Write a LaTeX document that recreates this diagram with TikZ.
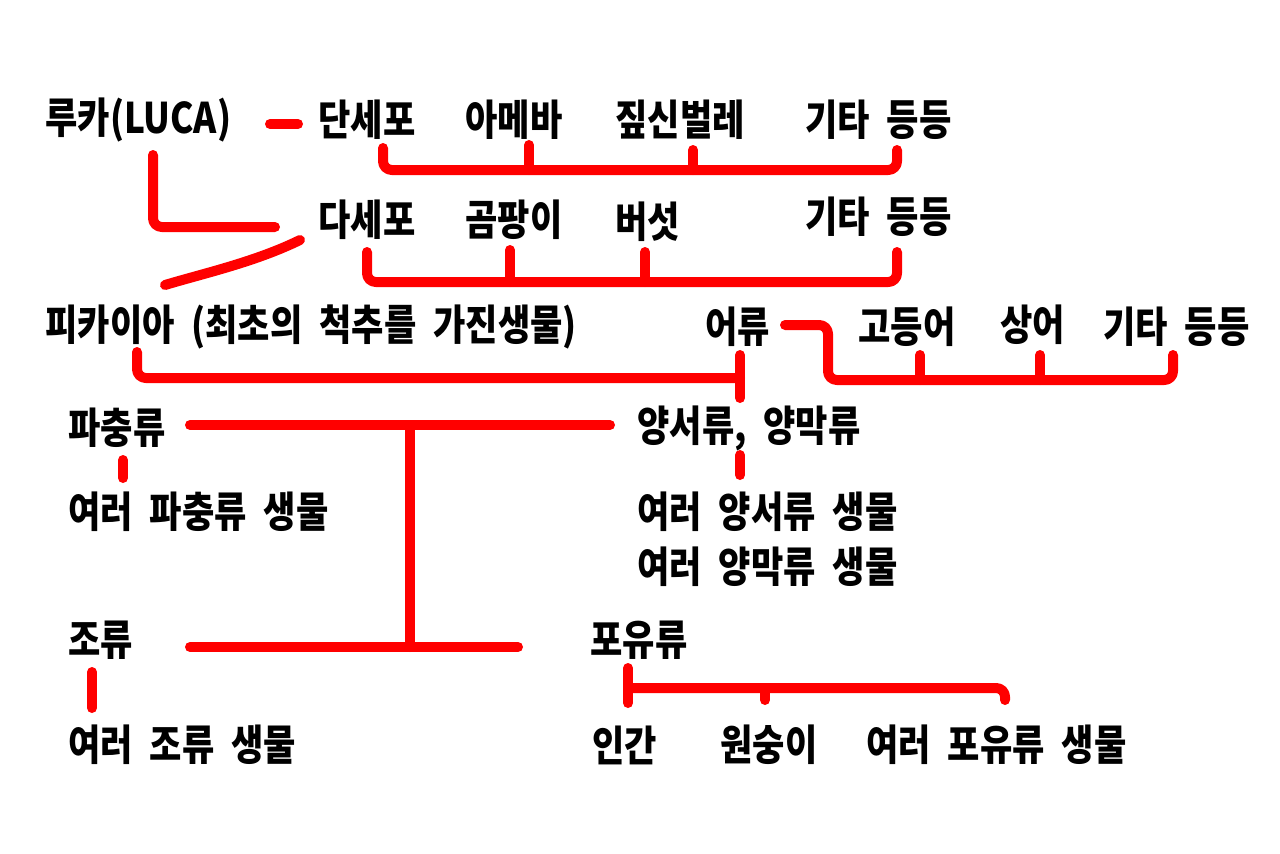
\documentclass[tikz,border=0pt]{standalone}
\usepackage{fontspec}
\usepackage{graphicx}
\usepackage{tikz}
\usetikzlibrary{calc}
\newfontfamily\krfont{Noto Sans CJK KR}[WordSpace=2.1]
\definecolor{treered}{rgb}{1, 0, 0}
\newcommand{\tall}[1]{\scalebox{1}[1.2]{#1}}
\tikzset{
lbl/.style={anchor=west, inner sep=0pt, font=\krfont\bfseries\fontsize{20}{22}\selectfont},
redline/.style={draw=treered, line width=0.2cm, line cap=round, line join=round, rounded corners=5}
}

\begin{document}
\begin{tikzpicture}[x=0.02cm, y=-0.02cm]
\useasboundingbox (0,0) rectangle (1280,853);

% first row
\node[lbl] (luca) at (45,120) {\tall{루카(LUCA)}};
\node[lbl] (dansepo) at (318,120) {\tall{단세포}};
\node[lbl] (ameba) at (465,120) {\tall{아메바}};
\node[lbl] (jipsin) at (615,120) {\tall{짚신벌레}};
\node[lbl] (etcone) at (805,120) {\tall{기타 등등}};

% second row
\node[lbl] (dasepo) at (318,220) {\tall{다세포}};
\node[lbl] (gompang) at (465,220) {\tall{곰팡이}};
\node[lbl] (beoseot) at (615,222) {\tall{버섯}};
\node[lbl] (etctwo) at (805,217) {\tall{기타 등등}};

% third row
\node[lbl] (pikaia) at (45,327) {\tall{피카이아 (최초의 척추를 가진생물)}};
\node[lbl] (eoryu) at (705,327) {\tall{어류}};
\node[lbl] (godeungeo) at (858,327) {\tall{고등어}};
\node[lbl] (sangeo) at (1000,325) {\tall{상어}};
\node[lbl] (etcthree) at (1103,327) {\tall{기타 등등}};

% reptiles and amphibians
\node[lbl] (pachung) at (68,428) {\tall{파충류}};
\node[lbl] (yangseo) at (637,428) {\tall{양서류, 양막류}};
\node[lbl] (pachungmany) at (68,512) {\tall{여러 파충류 생물}};
\node[lbl] (yangseomany) at (637,512) {\tall{여러 양서류 생물}};
\node[lbl] (yangmakmany) at (637,567) {\tall{여러 양막류 생물}};

% birds and mammals
\node[lbl] (jory) at (68,640) {\tall{조류}};
\node[lbl] (poyu) at (590,640) {\tall{포유류}};
\node[lbl] (jorymany) at (68,745) {\tall{여러 조류 생물}};
\node[lbl] (ingan) at (592,745) {\tall{인간}};
\node[lbl] (wonsung) at (720,745) {\tall{원숭이}};
\node[lbl] (poyumany) at (866,745) {\tall{여러 포유류 생물}};

\coordinate (split) at (410,425);

% connectors
\draw[redline] ($(luca.west)+(225,4)$) -- ($(dansepo.west)+(-20,4)$);
\draw[redline] ($(dansepo.west)+(65,28)$) |- ($(etcone.west)+(92,50)$) -- ($(etcone.west)+(92,30)$);
\draw[redline] ($(ameba.west)+(64,25)$) -- ++(0,25);
\draw[redline] ($(jipsin.west)+(78,30)$) -- ++(0,20);

\draw[redline] ($(luca.west)+(108,35)$) |- ($(dasepo.west)+(-43,7)$);
\draw[redline] ($(pikaia.west)+(120,-42)$) .. controls +(40,-12) and +(-45,22) .. ($(dasepo.west)+(-18,20)$);
\draw[redline] ($(dasepo.west)+(49,32)$) |- ($(etctwo.west)+(92,65)$) -- ($(etctwo.west)+(92,35)$);
\draw[redline] ($(gompang.west)+(45,30)$) -- ++(0,32);
\draw[redline] ($(beoseot.west)+(30,30)$) -- ++(0,30);

\draw[redline] ($(pikaia.west)+(92,25)$) |- ($(eoryu.west)+(35,51)$);
\draw[redline] ($(eoryu.west)+(35,28)$) -- ($(eoryu.west)+(35,71)$);
\draw[redline] ($(eoryu.west)+(80,-2)$) -- ($(godeungeo.west)+(-30,-2)$) |- ($(etcthree.west)+(70,53)$) -- ($(etcthree.west)+(70,28)$);
\draw[redline] ($(godeungeo.west)+(62,28)$) -- ++(0,25);
\draw[redline] ($(sangeo.west)+(40,30)$) -- ++(0,25);

\draw[redline] ($(pachung.west)+(122,-3)$) -- ($(yangseo.west)+(-27,-3)$);
\draw[redline] (split) -- ($(split |- jory.west)+(0,7)$);
\draw[redline] ($(jory.west)+(122,7)$) -- ($(poyu.west)+(-72,7)$);
\draw[redline] ($(pachung.west)+(55,32)$) -- ++(0,18);
\draw[redline] ($(yangseo.west)+(103,27)$) -- ++(0,20);
\draw[redline] ($(jory.west)+(24,32)$) -- ++(0,36);

\draw[redline] ($(poyu.west)+(38,28)$) -- ++(0,35);
\draw[redline] ($(poyu.west)+(38,48)$) -| ($(poyumany.west)+(139,-45)$);
\draw[redline] ($(wonsung.west)+(45,-57)$) -- ++(0,12);
\end{tikzpicture}
\end{document}
